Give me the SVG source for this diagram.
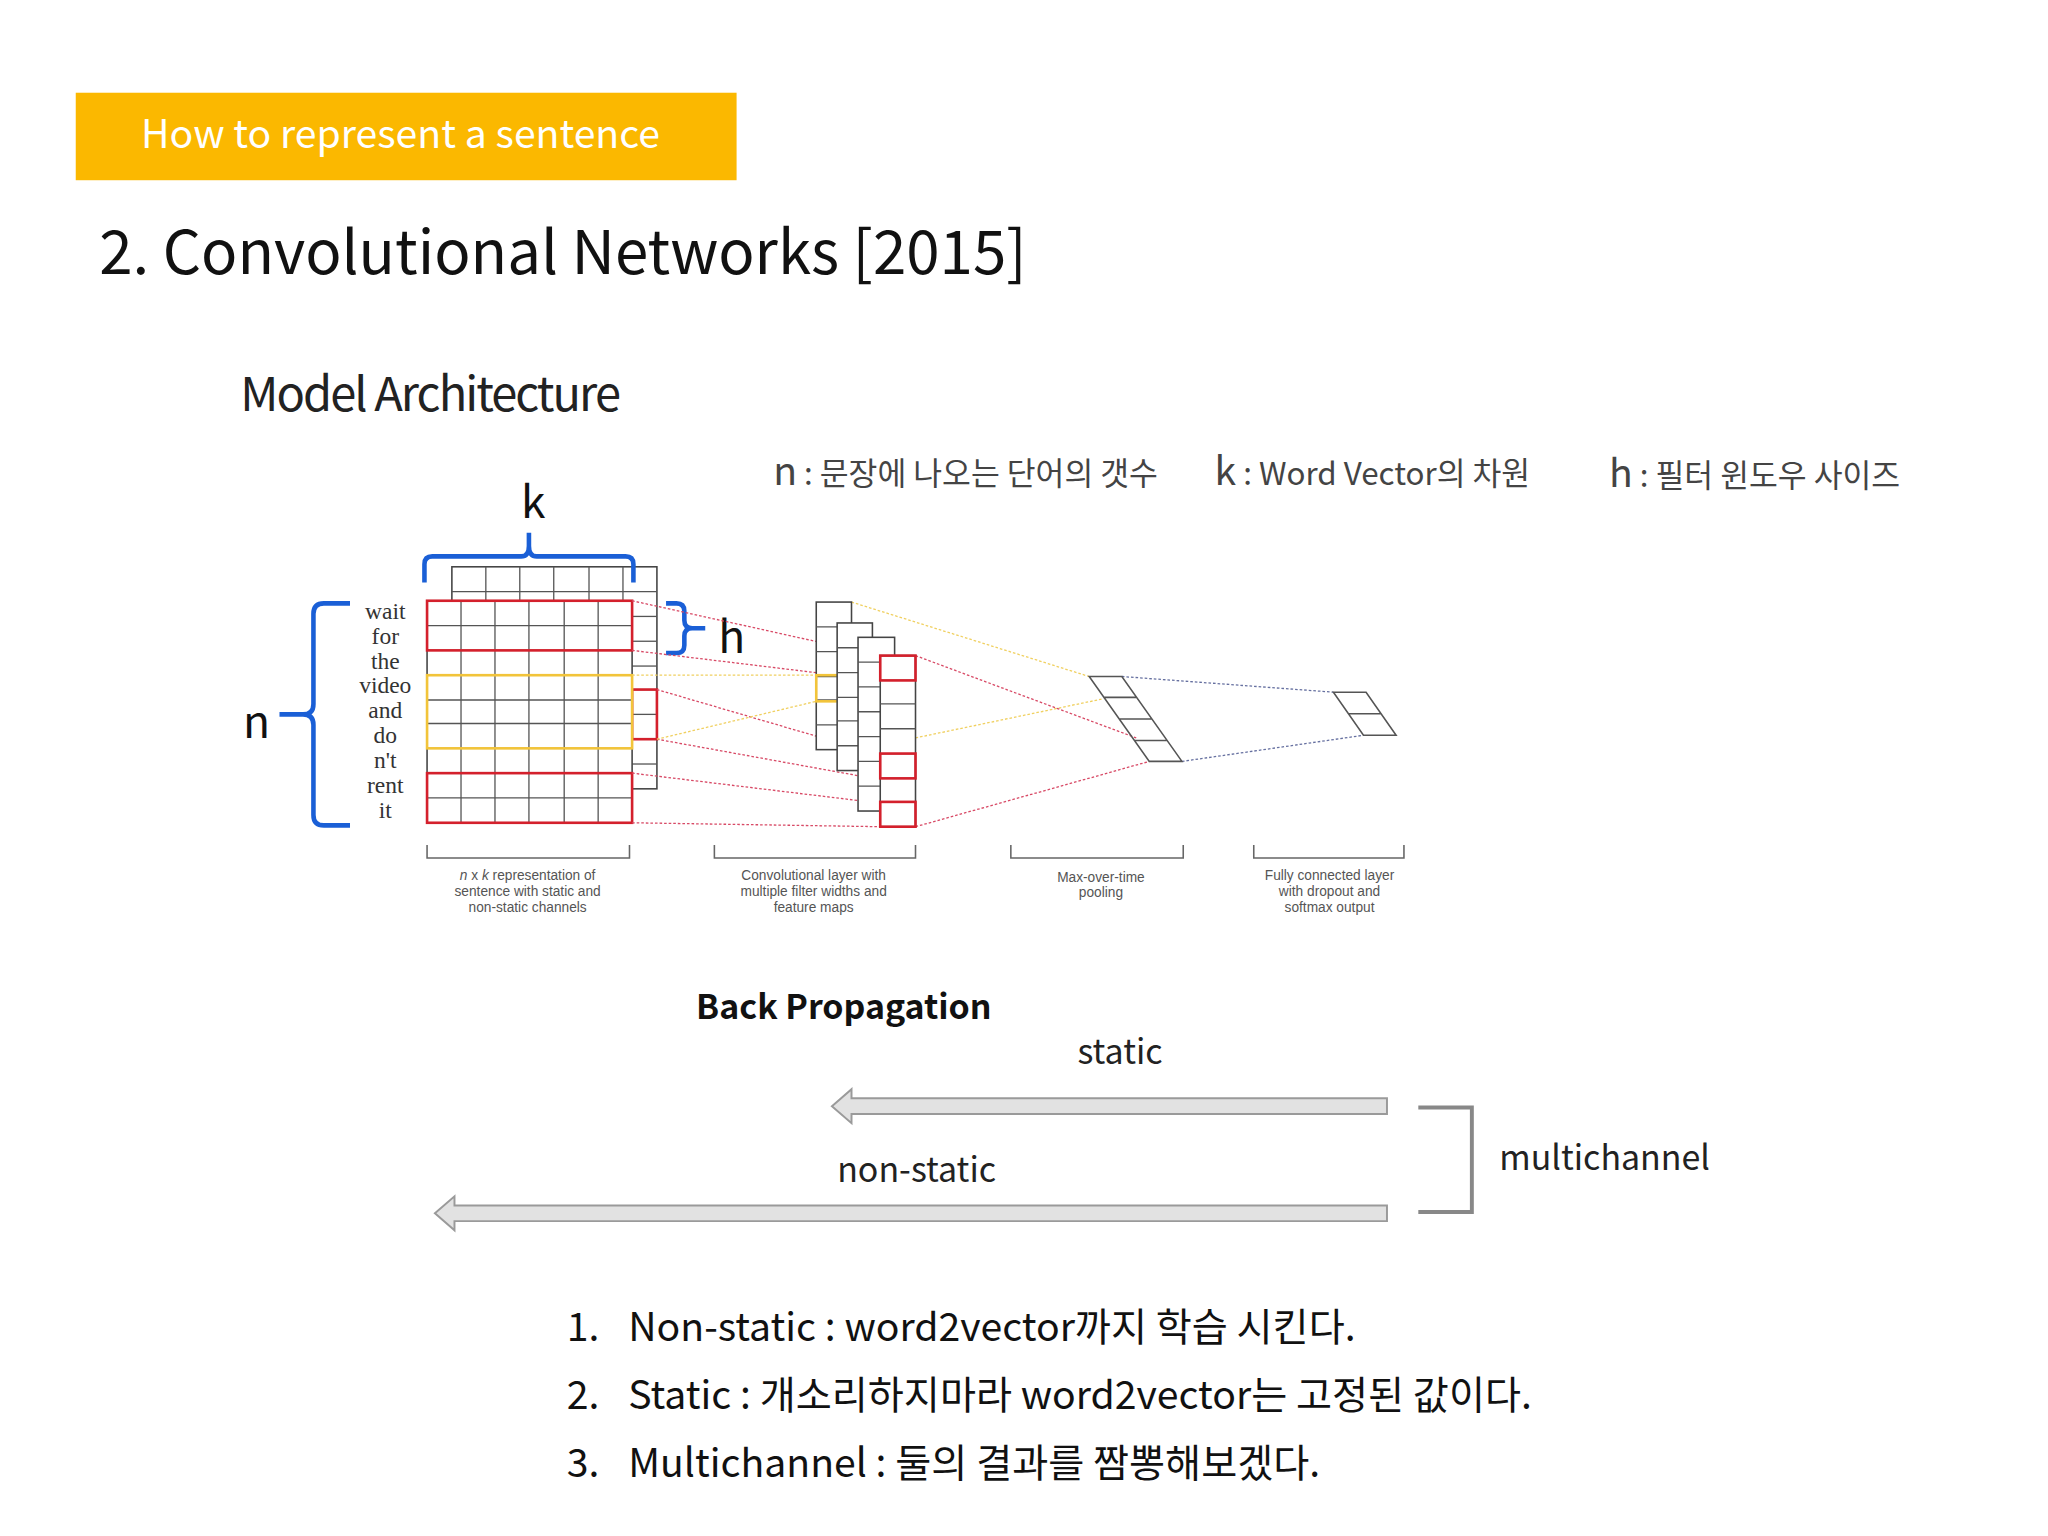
<svg xmlns="http://www.w3.org/2000/svg" width="2048" height="1536" viewBox="0 0 2048 1536">
<defs><style>
.k{font-family:"Noto Sans CJK KR","Noto Sans",sans-serif}
.g{fill:#fff;stroke:#444;stroke-width:1.2}
.gl{stroke:#555;stroke-width:1}
.red{fill:none;stroke:#d4202c;stroke-width:2}
.yel{fill:none;stroke:#f2c43a;stroke-width:2}
.br{fill:none;stroke:#1a5fd6;stroke-width:3.5}
.dr{stroke:#d84a66;stroke-width:1;stroke-dasharray:2 1.5}
.dy{stroke:#f0d060;stroke-width:1;stroke-dasharray:2 1.5}
.db{stroke:#6670a0;stroke-width:1;stroke-dasharray:2 1.5}
.cap{font-family:"Liberation Sans",Arial,sans-serif;font-size:10.5px;fill:#555;text-anchor:middle}
.w{font-family:"Liberation Serif",serif;font-size:18px;fill:#333;text-anchor:middle}
.lg{font-size:24px;fill:#444}
.ar{fill:#e2e2e2;stroke:#9a9a9a;stroke-width:1.5}
</style></defs>
<rect width="2048" height="1536" fill="#fff"/>
<g transform="scale(1.306)">
<g id="header"><rect x="58" y="71" width="506" height="67" fill="#fbb800"/>
<text x="108" y="113" class="k" font-size="30" fill="#fff">How to represent a sentence</text></g>
<text x="76" y="210" class="k" font-size="46" fill="#111">2. Convolutional Networks [2015]</text>
<text x="184" y="315" class="k" font-size="36" fill="#222" letter-spacing="-1.5">Model Architecture</text>
<g id="legend" class="k">
<text x="592" y="371" class="lg"><tspan font-size="30">n</tspan> : 문장에 나오는 단어의 갯수</text>
<text x="930" y="371" class="lg"><tspan font-size="30">k</tspan> : Word Vector의 차원</text>
<text x="1232" y="373" class="lg"><tspan font-size="30">h</tspan> : 필터 윈도우 사이즈</text>
</g>
<g id="input">
<rect x="346" y="434" width="157" height="170" class="g"/>
<g class="gl">
<line x1="372" y1="434" x2="372" y2="460"/><line x1="398" y1="434" x2="398" y2="460"/><line x1="424" y1="434" x2="424" y2="460"/><line x1="451" y1="434" x2="451" y2="460"/><line x1="477" y1="434" x2="477" y2="460"/>
<line x1="346" y1="453" x2="503" y2="453"/>
<line x1="484" y1="472" x2="503" y2="472"/><line x1="484" y1="491" x2="503" y2="491"/><line x1="484" y1="510" x2="503" y2="510"/><line x1="484" y1="528" x2="503" y2="528"/><line x1="484" y1="547" x2="503" y2="547"/><line x1="484" y1="566" x2="503" y2="566"/><line x1="484" y1="585" x2="503" y2="585"/>
</g>
<rect x="484" y="528" width="19" height="38" class="red"/>
<rect x="327" y="460" width="157" height="170" class="g"/>
<g class="gl">
<line x1="353" y1="460" x2="353" y2="630"/><line x1="379" y1="460" x2="379" y2="630"/><line x1="405" y1="460" x2="405" y2="630"/><line x1="432" y1="460" x2="432" y2="630"/><line x1="458" y1="460" x2="458" y2="630"/>
<line x1="327" y1="479" x2="484" y2="479"/><line x1="327" y1="498" x2="484" y2="498"/><line x1="327" y1="517" x2="484" y2="517"/><line x1="327" y1="536" x2="484" y2="536"/><line x1="327" y1="554" x2="484" y2="554"/><line x1="327" y1="573" x2="484" y2="573"/><line x1="327" y1="592" x2="484" y2="592"/><line x1="327" y1="611" x2="484" y2="611"/>
</g>
<rect x="327" y="460" width="157" height="38" class="red"/>
<rect x="327" y="517" width="157" height="56" class="yel"/>
<rect x="327" y="592" width="157" height="38" class="red"/>
<text x="295" y="474" class="w">wait</text><text x="295" y="493" class="w">for</text><text x="295" y="512" class="w">the</text><text x="295" y="531" class="w">video</text><text x="295" y="550" class="w">and</text><text x="295" y="569" class="w">do</text><text x="295" y="588" class="w">n't</text><text x="295" y="607" class="w">rent</text><text x="295" y="626" class="w">it</text>
</g>
<g id="braces">
<path class="br" d="M325 446 V432 Q325 426 331 426 H399 Q405 426 405 418 V408 M405 418 Q405 426 411 426 H479 Q485 426 485 432 V446"/>
<text x="399" y="397" class="k" font-size="34" fill="#111">k</text>
<path class="br" d="M268 462 H248 Q240 462 240 470 V539 Q240 547 232 547 H214 M232 547 Q240 547 240 555 V624 Q240 632 248 632 H268"/>
<text x="186" y="565" class="k" font-size="34" fill="#111">n</text>
<path class="br" d="M510 462 H518 Q524 462 524 468 V475 Q524 481 530 481 H540 M530 481 Q524 481 524 487 V494 Q524 500 518 500 H510"/>
<text x="550" y="500" class="k" font-size="34" fill="#111">h</text>
</g>
<g id="connectors">
<line x1="484" y1="460" x2="674" y2="502" class="dr"/><line x1="484" y1="498" x2="674" y2="521" class="dr"/>
<line x1="503" y1="528" x2="674" y2="578" class="dr"/><line x1="503" y1="566" x2="674" y2="597" class="dr"/>
<line x1="484" y1="592" x2="674" y2="615" class="dr"/><line x1="484" y1="630" x2="674" y2="633" class="dr"/>
<line x1="484" y1="517" x2="625" y2="517" class="dy"/><line x1="503" y1="566" x2="625" y2="537" class="dy"/>
<line x1="652" y1="461" x2="834" y2="518" class="dy"/><line x1="701" y1="565" x2="845" y2="535" class="dy"/>
<line x1="701" y1="502" x2="870" y2="565" class="dr"/><line x1="701" y1="633" x2="880" y2="583" class="dr"/>
<line x1="859" y1="518" x2="1021" y2="530" class="db"/><line x1="905" y1="583" x2="1044" y2="563" class="db"/>
</g>
<g id="featuremaps">
<rect x="625" y="461" width="27" height="113" class="g"/>
<g class="gl"><line x1="625" y1="480" x2="652" y2="480"/><line x1="625" y1="499" x2="652" y2="499"/><line x1="625" y1="518" x2="652" y2="518"/><line x1="625" y1="536" x2="652" y2="536"/><line x1="625" y1="555" x2="652" y2="555"/></g>
<rect x="625" y="517" width="20" height="20" class="yel"/>
<rect x="641" y="477" width="27" height="113" class="g"/>
<g class="gl"><line x1="641" y1="496" x2="668" y2="496"/><line x1="641" y1="515" x2="668" y2="515"/><line x1="641" y1="534" x2="668" y2="534"/><line x1="641" y1="552" x2="668" y2="552"/><line x1="641" y1="571" x2="668" y2="571"/></g>
<rect x="657" y="488" width="28" height="133" class="g"/>
<g class="gl"><line x1="657" y1="507" x2="685" y2="507"/><line x1="657" y1="526" x2="685" y2="526"/><line x1="657" y1="545" x2="685" y2="545"/><line x1="657" y1="564" x2="685" y2="564"/><line x1="657" y1="583" x2="685" y2="583"/><line x1="657" y1="602" x2="685" y2="602"/></g>
<rect x="674" y="502" width="27" height="131" class="g"/>
<g class="gl"><line x1="674" y1="521" x2="701" y2="521"/><line x1="674" y1="539" x2="701" y2="539"/><line x1="674" y1="558" x2="701" y2="558"/><line x1="674" y1="577" x2="701" y2="577"/><line x1="674" y1="596" x2="701" y2="596"/><line x1="674" y1="614" x2="701" y2="614"/></g>
<rect x="674" y="502" width="27" height="19" class="red"/><rect x="674" y="577" width="27" height="19" class="red"/><rect x="674" y="614" width="27" height="19" class="red"/>
</g>
<g id="pooling" fill="none" stroke="#555" stroke-width="1.2">
<path d="M834 518 H859 L905 583 H880 Z M845.5 534 H870.5 M857 550.5 H882 M868.5 567 H893.5"/>
</g>
<g id="fc" fill="none" stroke="#555" stroke-width="1.2">
<path d="M1021 530 H1046 L1069 563 H1044 Z M1032.5 546.5 H1057.5"/>
</g>
<g id="captions" fill="none" stroke="#666" stroke-width="1.2">
<path d="M327 647 V657 H482 V647 M547 647 V657 H701 V647 M774 647 V657 H906 V647 M960 647 V657 H1075 V647"/>
</g>
<text x="404" y="674" class="cap"><tspan font-style="italic">n</tspan> x <tspan font-style="italic">k</tspan> representation of</text>
<text x="404" y="686" class="cap">sentence with static and</text><text x="404" y="698" class="cap">non-static channels</text>
<text x="623" y="674" class="cap">Convolutional layer with</text><text x="623" y="686" class="cap">multiple filter widths and</text><text x="623" y="698" class="cap">feature maps</text>
<text x="843" y="675" class="cap">Max-over-time</text><text x="843" y="687" class="cap">pooling</text>
<text x="1018" y="674" class="cap">Fully connected layer</text><text x="1018" y="686" class="cap">with dropout and</text><text x="1018" y="698" class="cap">softmax output</text>
<g id="backprop" class="k">
<text x="533" y="780" font-size="26" font-weight="bold" fill="#111">Back Propagation</text>
<text x="825" y="815" font-size="26" fill="#222">static</text>
<path class="ar" d="M1062 841 V853 H652 V860 L637 847 L652 834 V841 Z"/>
<text x="641" y="905" font-size="26" fill="#222">non-static</text>
<path class="ar" d="M1062 923 V935 H348 V942 L333 929 L348 916 V923 Z"/>
<path d="M1086 848 H1127 V928 H1086" fill="none" stroke="#888" stroke-width="3"/>
<text x="1148" y="896" font-size="26" fill="#222">multichannel</text>
</g>
<g id="list" class="k" font-size="30" fill="#111">
<text x="434" y="1027">1.</text><text x="481" y="1027">Non-static : word2vector까지 학습 시킨다.</text>
<text x="434" y="1079">2.</text><text x="481" y="1079">Static : 개소리하지마라 word2vector는 고정된 값이다.</text>
<text x="434" y="1131">3.</text><text x="481" y="1131">Multichannel : 둘의 결과를 짬뽕해보겠다.</text>
</g>
</g>
</svg>
